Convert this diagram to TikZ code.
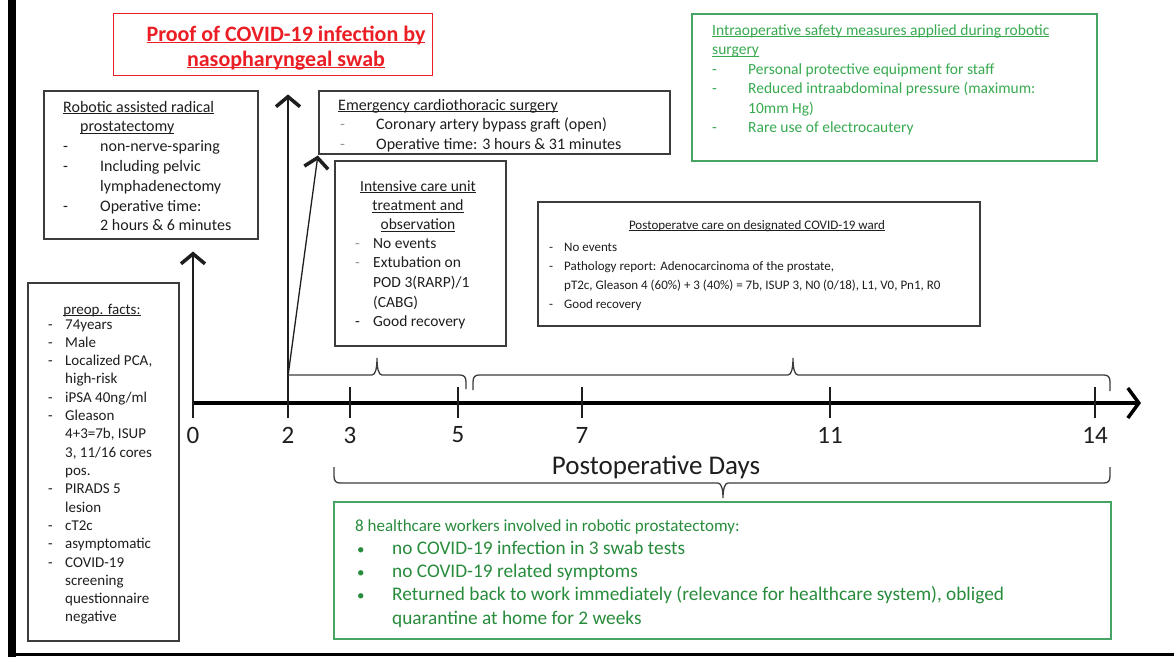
\documentclass[tikz,border=0pt]{standalone}
\usepackage{fontspec}
\setmainfont{Carlito}
\usetikzlibrary{arrows.meta}
\definecolor{pred}{RGB}{235,30,38}
\definecolor{gborder}{RGB}{70,165,100}
\definecolor{gtext}{RGB}{55,170,80}
\definecolor{gtextd}{RGB}{40,140,60}
\definecolor{bdr}{RGB}{60,60,60}
\definecolor{txtc}{RGB}{30,30,30}
\newcommand\fsz[2]{\fontsize{#1}{#2}\selectfont}
\newcommand\undl[1]{\setbox0\hbox{#1}\rlap{\rule[-2.2pt]{\wd0}{0.9pt}}\box0}
\tikzset{
  box/.style={draw=bdr, line width=1.5pt, anchor=north west, inner sep=0pt},
  gbox/.style={draw=gborder, line width=1.6pt, anchor=north west, inner sep=0pt},
  rbox/.style={draw=pred, line width=1.4pt, anchor=north west, inner sep=0pt},
  txt/.style={anchor=base west, inner sep=0pt, text=txtc},
  ctxt/.style={anchor=base, inner sep=0pt, text=txtc},
  num/.style={anchor=center, inner sep=0pt, font=\fsz{25}{30}, text=txtc},
  tickl/.style={line width=2.2pt, draw=txtc},
  barb/.style={-{Straight Barb[length=10pt,width=24pt,line width=3.5pt]}},
  uparrow/.style={barb, line width=1.3pt, draw=txtc},
  brl/.style={draw=bdr, line width=1.3pt},
}
\begin{document}
\begin{tikzpicture}[x=1pt,y=-1pt]
\useasboundingbox (0,0) rectangle (1174,657);
\fill[white] (0,0) rectangle (1174,657);
% frame lines
\draw[line width=8pt, black] (12,0) -- (12,657);
\draw[line width=3pt, black] (8,654.5) -- (1174,654.5);

% boxes
\node[rbox, minimum width=319pt, minimum height=62pt] (red) at (113,13) {};
\node[box, minimum width=214pt, minimum height=148pt] (rob) at (43,90) {};
\node[box, minimum width=351pt, minimum height=63pt] (emg) at (318,90) {};
\node[box, minimum width=171pt, minimum height=185pt] (icu) at (334,160) {};
\node[box, minimum width=442pt, minimum height=124pt] (ward) at (537,201) {};
\node[gbox, minimum width=405pt, minimum height=147pt] (safe) at (691,13) {};
\node[box, minimum width=151pt, minimum height=358pt] (pre) at (27,282) {};
\node[gbox, minimum width=777pt, minimum height=137pt] (hcw) at (333,501) {};

% red title
\node[ctxt, text=pred, font=\bfseries] (redT) at (286,41) {\fsz{22}{25}\begin{tabular}[t]{@{}c@{}}\undl{Proof of COVID-19 infection by}\\\undl{nasopharyngeal swab}\end{tabular}};

% robotic
\node[txt] (robT) at (63,112) {\fsz{16}{19.8}\begin{tabular}[t]{@{}p{37pt}@{}l@{}}
\multicolumn{2}{@{}l@{}}{\undl{Robotic assisted radical}}\\
\multicolumn{2}{@{}l@{}}{\hspace{17pt}\undl{prostatectomy}}\\
-&non-nerve-sparing\\
-&Including pelvic\\
&lymphadenectomy\\
-&Operative time:\\
&2 hours \& 6 minutes
\end{tabular}};

% emergency
\node[txt] (emgT) at (338,110) {\fsz{16}{19.5}\begin{tabular}[t]{@{}p{38pt}@{}l@{}}
\multicolumn{2}{@{}l@{}}{\undl{Emergency cardiothoracic surgery}}\\
\hspace{2pt}\textcolor{black!40}{-}&Coronary artery bypass graft (open)\\
\hspace{2pt}\textcolor{black!40}{-}&Operative time: 3 hours \& 31 minutes
\end{tabular}};

% ICU
\node[ctxt] (icuH) at (418,191) {\fsz{15.5}{19.3}\begin{tabular}[t]{@{}c@{}}\undl{Intensive care unit}\\\undl{treatment and}\\\undl{observation}\end{tabular}};
\node[txt] (icuT) at (355,248) {\fsz{15.5}{19.7}\begin{tabular}[t]{@{}p{18pt}@{}l@{}}
\textcolor{black!40}{-}&No events\\
\textcolor{black!40}{-}&Extubation on\\
&POD 3(RARP)/1\\
&(CABG)\\
-&Good recovery
\end{tabular}};

% ward
\node[ctxt] (wardH) at (757,229) {\fsz{13}{19}\undl{Postoperatve care on designated COVID-19 ward}};
\node[txt] (wardT) at (549,251) {\fsz{13}{19}\begin{tabular}[t]{@{}p{15pt}@{}l@{}}
-&No events\\
-&Pathology report: Adenocarcinoma of the prostate,\\
&pT2c, Gleason 4 (60\%) + 3 (40\%) = 7b, ISUP 3, N0 (0/18), L1, V0, Pn1, R0\\
-&Good recovery
\end{tabular}};

% safety
\node[txt, text=gtext] (safeT) at (712,35) {\fsz{15.5}{19.5}\begin{tabular}[t]{@{}p{36pt}@{}l@{}}
\multicolumn{2}{@{}l@{}}{\undl{Intraoperative safety measures applied during robotic}}\\
\multicolumn{2}{@{}l@{}}{\undl{surgery}}\\
-&Personal protective equipment for staff\\
-&Reduced intraabdominal pressure (maximum:\\
&10mm Hg)\\
-&Rare use of electrocautery
\end{tabular}};

% preop
\node[ctxt] (preH) at (102,314) {\fsz{15}{18.3}\undl{preop. facts:}};
\node[txt] (preT) at (48,329) {\fsz{15}{18.31}\begin{tabular}[t]{@{}p{17pt}@{}l@{}}
-&74years\\
-&Male\\
-&Localized PCA,\\
&high-risk\\
-&iPSA 40ng/ml\\
-&Gleason\\
&4+3=7b, ISUP\\
&3, 11/16 cores\\
&pos.\\
-&PIRADS 5\\
&lesion\\
-&cT2c\\
-&asymptomatic\\
-&COVID-19\\
&screening\\
&questionnaire\\
&negative
\end{tabular}};

% healthcare workers
\node[txt, text=gtextd] (hcwT) at (355,531) {\fsz{19.3}{23.3}\begin{tabular}[t]{@{}p{37pt}@{}l@{}}
\multicolumn{2}{@{}l@{}}{\fsz{17}{23.3}8 healthcare workers involved in robotic prostatectomy:}\\
\hspace{2pt}{\fsz{15}{23.3}•}&no COVID-19 infection in 3 swab tests\\
\hspace{2pt}{\fsz{15}{23.3}•}&no COVID-19 related symptoms\\
\hspace{2pt}{\fsz{15}{23.3}•}&Returned back to work immediately (relevance for healthcare system), obliged\\
&quarantine at home for 2 weeks
\end{tabular}};

% axis
\coordinate (ax0) at (193,403);
\coordinate (axE) at (1141,403);
\draw[line width=3.5pt, draw=black, -{Straight Barb[length=11pt,width=30pt,line width=3.5pt]}] (ax0) -- (axE);
\foreach \d/\x in {2/288,3/350,5/458,7/582,11/830,14/1095}{
  \coordinate (t\d) at (\x,403);
  \draw[tickl] (\x,387) -- (\x,418);
  \node[num] (n\d) at (\x,435) {\d};
}
\coordinate (t0b) at (193,418);
\node[num] (n0) at (193,435) {0};
\node[anchor=center, inner sep=0pt, font=\fsz{27}{32}, text=txtc] (days) at (656,467) {Postoperative Days};

% arrows
\coordinate (t2b) at (288,418);
\coordinate (d2) at (288,376);
\draw[uparrow, shorten >=12pt] (t0b) -- (rob.south -| t0b);
\draw[uparrow, shorten >=18pt] (t2b) -- (red.south -| t2b);
\draw[uparrow, shorten >=1pt] (d2) -- (emg.south west);

% braces
\coordinate (b1s) at (288,375);
\coordinate (s1) at (377,358);
\coordinate (b1e) at (466,389);
\draw[brl] (b1s) -- (372,375) .. controls (375.5,375) and (377,368) .. (s1)
  .. controls (377,368) and (378.5,375) .. (382,375) -- (460,375)
  .. controls (464,375) and (466,377) .. (466,382) -- (b1e);
\coordinate (b2s) at (473,390);
\coordinate (s2) at (793,358);
\coordinate (b2e) at (1110,391);
\draw[brl] (b2s) -- (473,382) .. controls (473,377) and (475,375) .. (479,375) -- (788,375)
  .. controls (791.5,375) and (793,368) .. (s2)
  .. controls (793,368) and (794.5,375) .. (798,375) -- (1104,375)
  .. controls (1108,375) and (1110,377) .. (1110,382) -- (b2e);
\coordinate (b3s) at (334,467);
\coordinate (s3) at (723,498);
\coordinate (b3e) at (1110,467);
\draw[brl] (b3s) -- (334,476) .. controls (334,481) and (336,483) .. (340,483) -- (718,483)
  .. controls (721.5,483) and (723,490) .. (s3)
  .. controls (723,490) and (724.5,483) .. (728,483) -- (1104,483)
  .. controls (1108,483) and (1110,481) .. (1110,476) -- (b3e);
\end{tikzpicture}
\end{document}
